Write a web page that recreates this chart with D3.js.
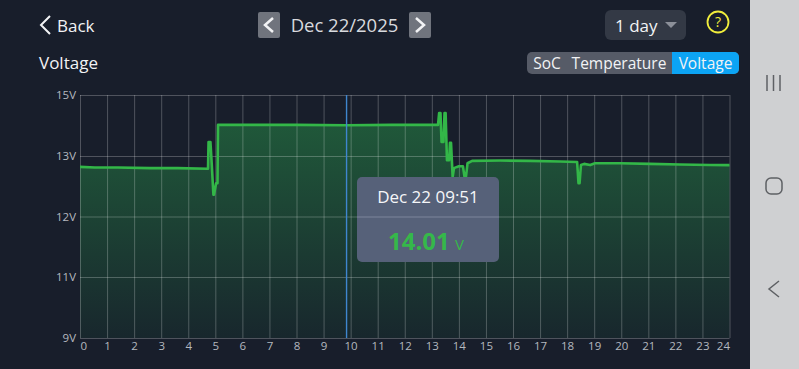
<!DOCTYPE html>
<html>
<head>
<meta charset="utf-8">
<script src="https://cdn.jsdelivr.net/npm/d3@7"></script>
<style>
html, body { margin: 0; padding: 0; background: #181e2b; overflow: hidden; }
text { font-family: "Open Sans", "Noto Sans", sans-serif; }
</style>
</head>
<body>
<div class="container"></div>
<script>
const WIDTH = 799,
    HEIGHT = 369,
    LEFT = 80,
    RIGHT = 729.5;

// voltage ticks are spaced evenly on the app's axis although the values are not
const voltTicks = [9, 11, 12, 13, 15];
const voltTickY = [338, 277, 216.5, 156, 95];
const hourTicks = d3.range(0, 25);

const hours = [
    0, 0.55, 1.4, 2.59, 3.6, 4.73, 4.75, 4.82, 4.86, 4.93, 4.95, 5.03, 5.08, 5.1,
    6.5, 8, 9.85, 11.5, 13.23, 13.27, 13.32, 13.36, 13.43, 13.47, 13.51, 13.56,
    13.64, 13.67, 13.71, 13.77, 13.82, 13.93, 14, 14.15, 14.21, 14.26, 14.32, 14.49,
    15.52, 16.63, 17.74, 18.37, 18.42, 18.46, 18.51, 18.63, 18.85, 19.03, 19.96,
    21.06, 22.17, 23.28, 24
];
const volts = [
    12.82, 12.81, 12.81, 12.8, 12.8, 12.79, 13.46, 13.46, 12.93, 12.36, 12.36, 12.55, 12.55, 14.02,
    14.02, 14.02, 14.01, 14.02, 14.02, 14.41, 14.41, 13.46, 13.46, 14.41, 14.41, 12.93,
    12.93, 13.43, 13.43, 12.65, 12.8, 12.82, 12.83, 12.83, 12.65, 12.65, 12.88, 12.92,
    12.925, 12.92, 12.91, 12.9, 12.55, 12.55, 12.85, 12.87, 12.85, 12.88, 12.88,
    12.87, 12.86, 12.85, 12.85
];

const cursorHour = 9.85;

const xScale = d3.scaleLinear().domain([0, 24]).range([LEFT, RIGHT]);
const yScale = d3.scaleLinear().domain(voltTicks).range(voltTickY);

const svg = d3.select('.container').append('svg')
    .attr('width', WIDTH)
    .attr('height', HEIGHT)
    .style('display', 'block');

var addText = (x, y, str, size, color, anchor) =>
    svg.append('text')
        .attr('x', x)
        .attr('y', y)
        .attr('font-size', size)
        .attr('fill', color)
        .attr('text-anchor', anchor || 'start')
        .text(str);

var addChevron = (d, color, w) =>
    svg.append('path')
        .attr('d', d)
        .attr('fill', 'none')
        .attr('stroke', color)
        .attr('stroke-width', w);

var drawHeader = () => {
    addChevron('M50 16 L41 25 L50 34', '#f2f3f5', 2);
    addText(57, 32, 'Back', 17, '#f2f3f5');

    svg.append('rect').attr('x', 258).attr('y', 12).attr('width', 22).attr('height', 26).attr('rx', 2).attr('fill', '#70747d');
    addChevron('M273 18 L265 25 L273 32', '#f2f3f5', 2.5);
    addText(344.5, 32, 'Dec 22/2025', 18.5, '#d8dade', 'middle');
    svg.append('rect').attr('x', 409).attr('y', 12).attr('width', 22).attr('height', 26).attr('rx', 2).attr('fill', '#70747d');
    addChevron('M416 18 L424 25 L416 32', '#f2f3f5', 2.5);

    svg.append('rect').attr('x', 605).attr('y', 10).attr('width', 81).attr('height', 30).attr('rx', 6).attr('fill', '#333945');
    addText(615, 32, '1 day', 17, '#f2f3f5');
    svg.append('path').attr('d', 'M665 22 L677 22 L671 28 Z').attr('fill', '#8c9099');

    svg.append('circle').attr('cx', 718).attr('cy', 22).attr('r', 10.5).attr('fill', 'none').attr('stroke', '#f1ee3c').attr('stroke-width', 1.8);
    addText(718, 27, '?', 14, '#f1ee3c', 'middle');

    addText(39, 69, 'Voltage', 17, '#f2f3f5');

    svg.append('rect').attr('x', 527).attr('y', 52).attr('width', 212).attr('height', 22).attr('rx', 5).attr('fill', '#565b67');
    svg.append('path').attr('d', 'M672 52 H734 A5 5 0 0 1 739 57 V69 A5 5 0 0 1 734 74 H672 Z').attr('fill', '#0ca4f4');
    addText(547, 69, 'SoC', 15.5, '#f2f3f5', 'middle');
    addText(619, 69, 'Temperature', 15.5, '#f2f3f5', 'middle');
    addText(705.5, 69, 'Voltage', 15.5, '#f2f3f5', 'middle');
}

var drawChart = () => {
    var grad = svg.append('defs').append('linearGradient')
        .attr('id', 'fillGrad')
        .attr('gradientUnits', 'userSpaceOnUse')
        .attr('x1', 0).attr('x2', 0)
        .attr('y1', 120).attr('y2', 338);
    grad.append('stop').attr('offset', 0).attr('stop-color', '#20593a');
    grad.append('stop').attr('offset', 1).attr('stop-color', '#18272d');

    var points = hours.map((h, i) => [h, volts[i]]);

    svg.append('path')
        .attr('d', d3.area().x(d => xScale(d[0])).y0(yScale(9)).y1(d => yScale(d[1]))(points))
        .attr('fill', 'url(#fillGrad)');

    var xAxis = d3.axisBottom(xScale)
        .tickValues(hourTicks)
        .tickSize(-(yScale(9) - yScale(15)))
        .tickPadding(4);
    var yAxis = d3.axisLeft(yScale)
        .tickValues(voltTicks)
        .tickSize(-(RIGHT - LEFT))
        .tickPadding(4)
        .tickFormat(d => d + 'V');

    var gx = svg.append('g')
        .attr('transform', `translate(0,${yScale(9)})`)
        .call(xAxis);
    var gy = svg.append('g')
        .attr('transform', `translate(${LEFT},0)`)
        .call(yAxis);

    [gx, gy].forEach(g => {
        g.select('.domain').remove();
        g.selectAll('line').attr('stroke', '#ffffff').attr('stroke-opacity', 0.24);
        g.selectAll('text').attr('fill', '#b4b8bf').attr('font-size', 11.5);
    });
    gx.selectAll('text')
        .attr('text-anchor', d => d === 0 ? 'start' : d === 24 ? 'end' : 'middle');

    svg.append('path')
        .attr('d', d3.line().x(d => xScale(d[0])).y(d => yScale(d[1]))(points))
        .attr('fill', 'none')
        .attr('stroke', '#33b748')
        .attr('stroke-width', 2.6)
        .attr('stroke-linejoin', 'round');

    svg.append('line')
        .attr('x1', xScale(cursorHour)).attr('x2', xScale(cursorHour))
        .attr('y1', yScale(15)).attr('y2', yScale(9))
        .attr('stroke', '#3f86cf')
        .attr('stroke-width', 1.4);
}

var drawTooltip = () => {
    svg.append('rect').attr('x', 357).attr('y', 177).attr('width', 142).attr('height', 85).attr('rx', 5).attr('fill', '#566179');
    svg.append('line').attr('x1', 357).attr('x2', 499).attr('y1', 217).attr('y2', 217).attr('stroke', '#7c869c');
    addText(428, 203, 'Dec 22 09:51', 17, '#f5f6f8', 'middle');
    addText(388, 250, '14.01', 24, '#35b84a').attr('font-weight', 700);
    addText(455, 250, 'V', 15, '#35b84a');
}

var drawNavBar = () => {
    svg.append('rect').attr('x', 750).attr('y', 0).attr('width', 49).attr('height', HEIGHT).attr('fill', '#cfd0d2');
    [767, 773.5, 780].forEach(x => {
        svg.append('line').attr('x1', x).attr('x2', x).attr('y1', 75).attr('y2', 91).attr('stroke', '#5e6064').attr('stroke-width', 1.5);
    });
    svg.append('rect').attr('x', 766).attr('y', 178).attr('width', 16).attr('height', 16).attr('rx', 5)
        .attr('fill', 'none').attr('stroke', '#5e6064').attr('stroke-width', 1.5);
    addChevron('M779 281 L769 289 L779 297', '#5e6064', 1.5);
}

drawHeader();
drawChart();
drawTooltip();
drawNavBar();
</script>
</body>
</html>
